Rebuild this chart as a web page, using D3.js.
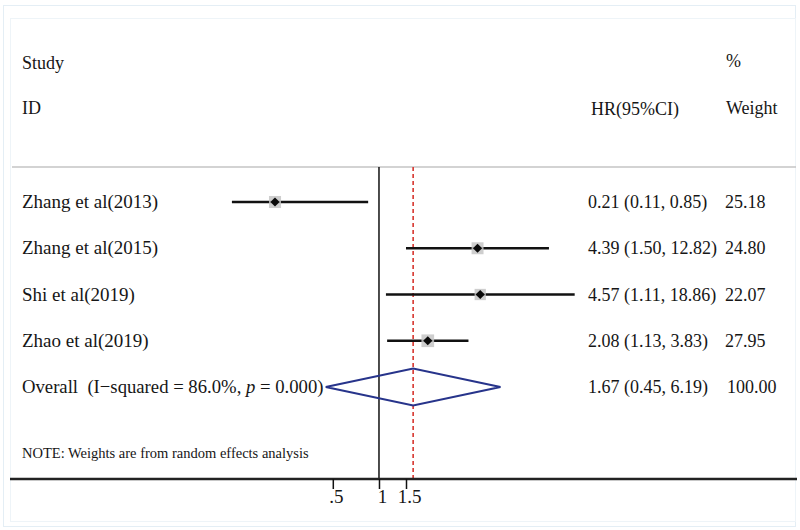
<!DOCTYPE html>
<html>
<head>
<meta charset="utf-8">
<script src="https://cdn.jsdelivr.net/npm/d3@7"></script>
<style>
  html, body { margin: 0; padding: 0; background: #fff; }
  svg { display: block; }
  text { font-family: "Liberation Serif", "Times New Roman", serif; fill: #161616; }
</style>
</head>
<body>
<svg id="chart" width="800" height="530"></svg>
<script>
// ---- data ----
const studies = ["Zhang et al(2013)", "Zhang et al(2015)", "Shi et al(2019)", "Zhao et al(2019)"];
const hr      = [0.21, 4.39, 4.57, 2.08];
const lower   = [0.11, 1.50, 1.11, 1.13];
const upper   = [0.85, 12.82, 18.86, 3.83];
const weights = [25.18, 24.80, 22.07, 27.95];
const overallLabel = "Overall";
const overallHet = { i2: "86.0%", p: "0.000" };
const overall = { hr: 1.67, lower: 0.45, upper: 6.19, weight: 100.00 };
const tickValues = [0.5, 1, 1.5];
const tickLabels = [".5", "1", "1.5"];
const note = "NOTE: Weights are from random effects analysis";

// ---- layout ----
const svg = d3.select("#chart");
const axisY = 479, topY = 167;

const x = d3.scaleLog().domain([0.5, 1.5]).range([332.8, 406.0]);
const rows = studies.concat([overallLabel]);
const y = d3.scalePoint().domain(rows).range([202, 387]);
const boxSize = d3.scaleSqrt().domain([0, 100]).range([0, 24]);
const fmt = d3.format(".2f");

// faint frame
svg.append("rect").attr("x", 3.5).attr("y", 5.5).attr("width", 792).attr("height", 521)
  .attr("fill", "none").attr("stroke", "#e4eef5").attr("stroke-width", 1);
svg.append("rect").attr("x", 10.5).attr("y", 18.5).attr("width", 785).attr("height", 503)
  .attr("fill", "none").attr("stroke", "#eef4f8").attr("stroke-width", 1);

// headers
const fs = 18;
svg.append("text").attr("x", 22).attr("y", 69).attr("font-size", fs).text("Study");
svg.append("text").attr("x", 22).attr("y", 114).attr("font-size", fs).text("ID");
svg.append("text").attr("x", 726).attr("y", 67).attr("font-size", fs).text("%");
svg.append("text").attr("x", 591).attr("y", 115).attr("font-size", fs).text("HR(95%CI)");
svg.append("text").attr("x", 726).attr("y", 114).attr("font-size", fs).text("Weight");

// header separator
svg.append("line").attr("x1", 12).attr("x2", 796).attr("y1", topY).attr("y2", topY)
  .attr("stroke", "#c4c4c4").attr("stroke-width", 1.5);

// null line
svg.append("line").attr("x1", x(1)).attr("x2", x(1)).attr("y1", topY).attr("y2", axisY)
  .attr("stroke", "#111").attr("stroke-width", 1.5);

// overall dashed line
svg.append("line").attr("x1", x(overall.hr)).attr("x2", x(overall.hr)).attr("y1", topY).attr("y2", axisY)
  .attr("stroke", "#d9403a").attr("stroke-width", 1.7).attr("stroke-dasharray", "4,3");

// study rows
const data = studies.map((s, i) => ({ s, hr: hr[i], lo: lower[i], hi: upper[i], w: weights[i] }));
const g = svg.append("g");

g.selectAll("line.ci").data(data).join("line").attr("class", "ci")
  .attr("x1", d => x(d.lo)).attr("x2", d => x(d.hi))
  .attr("y1", d => y(d.s)).attr("y2", d => y(d.s))
  .attr("stroke", "#111").attr("stroke-width", 2.4);

g.selectAll("rect.box").data(data).join("rect").attr("class", "box")
  .attr("x", d => x(d.hr) - boxSize(d.w) / 2).attr("y", d => y(d.s) - boxSize(d.w) / 2)
  .attr("width", d => boxSize(d.w)).attr("height", d => boxSize(d.w))
  .attr("fill", "#c6c6c6").attr("opacity", 0.85);

g.selectAll("path.pt").data(data).join("path").attr("class", "pt")
  .attr("d", d => {
    const cx = x(d.hr), cy = y(d.s), r = 4.6;
    return `M${cx},${cy - r}L${cx + r},${cy}L${cx},${cy + r}L${cx - r},${cy}Z`;
  })
  .attr("fill", "#0a0a0a");

g.selectAll("text.lab").data(data).join("text").attr("class", "lab")
  .attr("x", 22).attr("y", d => y(d.s) + 6).attr("font-size", 19).text(d => d.s);

g.selectAll("text.est").data(data).join("text").attr("class", "est")
  .attr("x", 588).attr("y", d => y(d.s) + 6).attr("font-size", fs)
  .text(d => `${fmt(d.hr)} (${fmt(d.lo)}, ${fmt(d.hi)})`);

g.selectAll("text.wt").data(data).join("text").attr("class", "wt")
  .attr("x", 725).attr("y", d => y(d.s) + 6).attr("font-size", fs)
  .text(d => fmt(d.w));

// overall diamond
const oy = y(overallLabel), dh = 18.5;
svg.append("path")
  .attr("d", `M${x(overall.lower)},${oy}L${x(overall.hr)},${oy - dh}L${x(overall.upper)},${oy}L${x(overall.hr)},${oy + dh}Z`)
  .attr("fill", "none").attr("stroke", "#27348b").attr("stroke-width", 2.2).attr("stroke-linejoin", "miter");

const ot = svg.append("text").attr("x", 22).attr("y", oy + 6).attr("font-size", 18.7)
  .attr("xml:space", "preserve");
ot.append("tspan").text(`${overallLabel}  (I\u2212squared = ${overallHet.i2}, `);
ot.append("tspan").attr("font-style", "italic").text("p");
ot.append("tspan").text(` = ${overallHet.p})`);

svg.append("text").attr("x", 588).attr("y", oy + 6).attr("font-size", fs)
  .text(`${fmt(overall.hr)} (${fmt(overall.lower)}, ${fmt(overall.upper)})`);
svg.append("text").attr("x", 727).attr("y", oy + 6).attr("font-size", fs)
  .text(fmt(overall.weight));

// note
svg.append("text").attr("x", 22).attr("y", 458).attr("font-size", 14.5).text(note);

// axis
svg.append("line").attr("x1", 10).attr("x2", 797).attr("y1", axisY).attr("y2", axisY)
  .attr("stroke", "#222").attr("stroke-width", 2.6);

const axis = d3.axisBottom(x).tickValues(tickValues)
  .tickFormat((d, i) => tickLabels[i]).tickSize(10).tickSizeOuter(0).tickPadding(1);
const ag = svg.append("g").attr("transform", `translate(0,${axisY})`).call(axis);
ag.select(".domain").remove();
ag.selectAll(".tick line").attr("stroke", "#111").attr("stroke-width", 1.5);
ag.selectAll(".tick text").attr("font-size", 19).attr("font-family", "Liberation Serif, serif")
  .attr("fill", "#161616").attr("dx", 3);
</script>
</body>
</html>
